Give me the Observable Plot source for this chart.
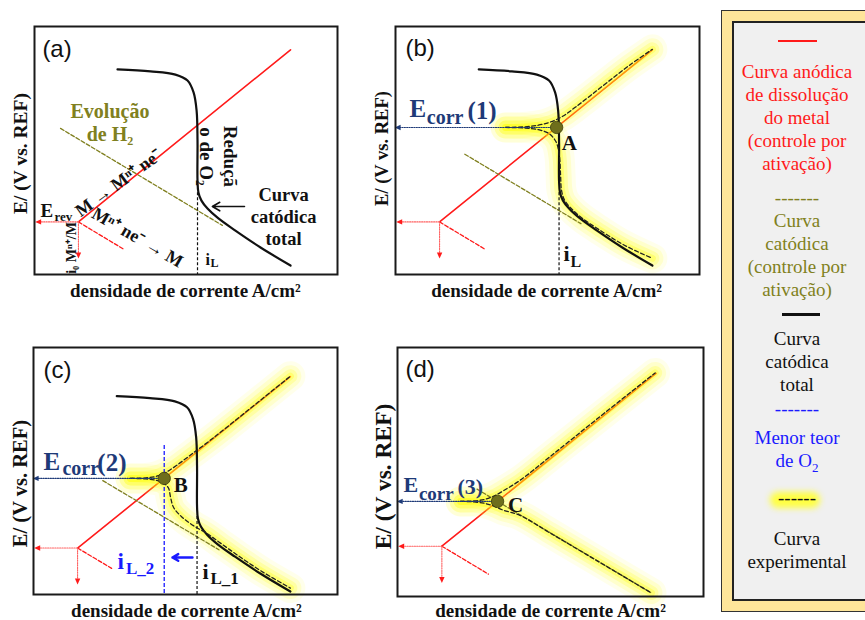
<!DOCTYPE html>
<html><head><meta charset="utf-8">
<script src="https://cdn.jsdelivr.net/npm/d3@7"></script>
<script src="https://cdn.jsdelivr.net/npm/@observablehq/plot@0.6"></script>
<style>
html,body{margin:0;padding:0;background:#fff}
body{width:865px;height:620px;overflow:hidden;position:relative;font-family:"Liberation Serif","Times New Roman",serif}
.panel{position:absolute}
#lgOuter{position:absolute;left:721px;top:10px;width:200px;height:602px;box-sizing:border-box;border:1px solid #333;background:#fee59a}
#lgInner{position:absolute;left:10px;top:10px;right:10px;bottom:10px;border:2px solid #222;background:#f0f0f0}
.lt{position:absolute;left:734px;width:126px;text-align:center;font-family:"Liberation Serif","Times New Roman",serif;font-size:19px;line-height:23px;white-space:nowrap}
.sw{position:absolute}
</style></head><body>
<div id="pa" class="panel" style="left:0;top:0"></div>
<div id="pb" class="panel" style="left:361px;top:0"></div>
<div id="pc" class="panel" style="left:0;top:321px"></div>
<div id="pd" class="panel" style="left:361px;top:321px"></div>
<div id="lgOuter"><div id="lgInner"></div></div>
<div class="sw" style="left:778px;top:40px;width:39px;height:2px;background:#ff1a1a"></div>
<div class="lt" style="top:60px;color:#ff1a1a">Curva anódica<br>de dissolução<br>do metal<br>(controle por<br>ativação)</div>
<div class="lt" style="top:186px;color:#808020">-------</div>
<div class="lt" style="top:209px;color:#808020">Curva<br>catódica<br>(controle por<br>ativação)</div>
<div class="sw" style="left:782px;top:313px;width:38px;height:3px;background:#111"></div>
<div class="lt" style="top:327px;color:#111">Curva<br>catódica<br>total</div>
<div class="lt" style="top:397px;color:#1a1aff">-------</div>
<div class="lt" style="top:426px;color:#1a1aff">Menor teor<br>de O<sub style="font-size:13px">2</sub></div>
<div class="sw" style="left:770px;top:492px;width:50px;height:16px;background:#ffff40;border-radius:8px;filter:blur(3px)"></div>
<div class="lt" style="top:486px;color:#111">------</div>
<div class="lt" style="top:527px;color:#111">Curva<br>experimental</div>
<script>
// ---------- data (schematic units 0..100) ----------
const totalCathodic = [[27.4,82.7],[38.3,81.9],[46.5,80.6],[50.5,78.2],[52.5,73.4],[53.5,66.1],[53.8,54],[53.8,37.9],[54.1,33.1],[55.1,29.8],[57.1,26.6],[60.7,22.6],[66.3,17.7],[74.6,10.9],[84.5,3.6]];
const anodicLine = [[14.5,21.2],[84.5,90.6]];
const reverseBranch = [[14.5,21.2],[29.7,10]];
const reverseBranchC = [[14.5,21.2],[25.7,13]];
const h2LineA = [[8.6,58.9],[62,19.8]];
const h2LineBC = [[22.8,48.5],[61,20.5]];
const h2LineD = [[26,44.1],[83,2.4]];
const eRev = [14.5,21.2];
const iL = 53.8, iLTop = 33, iL1Top = 34;
const iL2 = 43, iL2Top = 62.7;
const corrA = [53,59.3], corrB = [43,49.4], corrC = [32.7,39.2];
const expAnodicB = [[36.2,59.3],[42,59.5],[47,60.2],[51,61.5],[55,63.8],[59,67.3],[64,72],[70,77.8],[77,84.4],[84.5,90.8]];
const expCathodicB = [[36.2,59.3],[42,59.1],[47,58.4],[50.5,56.8],[52.8,53.5],[53.9,48],[54.3,40],[54.6,34],[55.6,30],[57.8,26.6],[61.3,22.8],[66.8,18.2],[75,12],[84.5,6.5]];
const expAnodicC = [[31.9,49.4],[37,49.6],[40.5,50.3],[43.5,51.8],[47,54.6],[52,59.2],[58,64.7],[65,71.5],[74,80.4],[84.5,90.8]];
const expCathodicC = [[31.9,49.4],[37,49.2],[40.5,48.6],[43,47.3],[44.4,45.5],[45.1,41.7],[46.1,37.6],[48.8,33.8],[52.6,30.3],[57.2,27],[61.5,23.2],[67,18.4],[75,11.8],[84.5,5]];
const expAnodicD = [[20.6,39.2],[25,39.4],[28.5,40],[31.5,41.3],[34.5,43.4],[40,47.6],[50,57.3],[65,72.1],[84.2,90.8]];
const expCathodicD = [[20.6,39.2],[25,39],[28.5,38.4],[31.5,37.3],[34.5,35.7],[40,33.6],[50,26.4],[65,15.5],[83,2.4]];
const xLabel = "densidade de corrente A/cm²";
const yLabel = "E/ (V vs. REF)";

// ---------- helpers ----------
const SERIF = "Liberation Serif, Times New Roman, serif";
const SANS = "Liberation Sans, Arial, sans-serif";
const RED = "#ff1a1a", OLIVE = "#808020", NAVY = "#1e3a78", BLUE = "#1a1aff";
const triLeft = {draw(ctx, size){const r=Math.sqrt(size/Math.PI);ctx.moveTo(-r*1.3,0);ctx.lineTo(r*0.7,-r*0.9);ctx.lineTo(r*0.7,r*0.9);ctx.closePath();}};
const triDown = {draw(ctx, size){const r=Math.sqrt(size/Math.PI);ctx.moveTo(0,r*1.3);ctx.lineTo(-r*0.9,-r*0.7);ctx.lineTo(r*0.9,-r*0.7);ctx.closePath();}};
function L(data, o){ return Plot.line(data, {x: d=>d[0], y: d=>d[1], ...o}); }
function T(x, y, t, o){ return Plot.text([{x, y, t}], {x:"x", y:"y", text:"t", fontFamily: SERIF, fontWeight:"bold", fontSize:16, fill:"#111", ...o}); }
function head(p, sym, color){ return Plot.dot([p], {x:d=>d[0], y:d=>d[1], symbol: sym, r:3, fill: color}); }
const glowLayers = [[30,0.08],[22,0.13],[14,0.2],[7,0.3]];
function glow(data){ return glowLayers.map(([w,o]) => L(data, {curve:"catmull-rom", stroke:"#ffff00", strokeWidth:w, strokeOpacity:o, strokeLinecap:"round", strokeLinejoin:"round"})); }
function exp(data){ return L(data, {curve:"catmull-rom", stroke:"#222", strokeWidth:1.3, strokeDasharray:"4,2.5"}); }
function redParts(branch){ return [
  L(anodicLine, {stroke: RED, strokeWidth:1.6}),
  L(branch, {stroke: RED, strokeWidth:1.3, strokeDasharray:"4,2"}),
  L([eRev,[1.5,eRev[1]]], {stroke:"#ff6060", strokeWidth:1.1, strokeDasharray:"1.2,1.2"}),
  L([eRev,[eRev[0],8]], {stroke:"#ff6060", strokeWidth:1.1, strokeDasharray:"1.2,1.2"}),
  head([1.5,eRev[1]], triLeft, RED),
  head([eRev[0],8], triDown, RED)
];}
function corrArrow(p){ return [
  L([p,[1,p[1]]], {stroke: NAVY, strokeWidth:1.1, strokeDasharray:"1.2,1.2"}),
  head([1,p[1]], triLeft, NAVY)
];}
function corrDot(p){ return Plot.dot([p], {x:d=>d[0], y:d=>d[1], r:6.2, fill:"#6e6e1c", stroke:"#3c3c08", strokeWidth:0.8}); }
function eCorr(xE, yE, fE, xs, ys, fs, xn, yn, n){ return [
  T(xE, yE, "E", {fill:NAVY, fontSize:fE, textAnchor:"start"}),
  T(xs, ys, "corr", {fill:NAVY, fontSize:fs, textAnchor:"start"}),
  T(xn, yn, "(" + n + ")", {fill:NAVY, fontSize:fE, textAnchor:"start"})
];}
function panel(el, cfg, marks){
  const p = Plot.plot({
    width: cfg.w, height: 300,
    marginLeft: cfg.ml, marginRight: cfg.mr, marginTop: 26, marginBottom: cfg.mb,
    x: {domain:[0,100], axis:null},
    y: {domain: cfg.yd, axis:null},
    style: {background:"transparent", overflow:"visible"},
    marks: [
      ...marks,
      Plot.frame({stroke:"#1a1a1a", strokeWidth:2}),
      T(cfg.tagX, cfg.tagY, cfg.tag, {fontFamily: SANS, fontWeight:"normal", fontSize:24, textAnchor:"start"}),
      T(cfg.ylx, cfg.yly, yLabel, {rotate:-90, fontSize: cfg.ylfs}),
      T(cfg.xlx, cfg.xly, xLabel, {fontSize:19})
    ]
  });
  document.getElementById(el).appendChild(p);
}

// ---------- (a) ----------
panel("pa", {w:340, ml:34, mr:3, mb:26, yd:[0,100], tag:"(a)", tagX:2.6, tagY:90.9, ylx:-4.6, yly:48.8, ylfs:19.5, xlx:49.8, xly:-6.5}, [
  L(h2LineA, {stroke: OLIVE, strokeWidth:1.3, strokeDasharray:"4,2"}),
  ...redParts(reverseBranch),
  L(totalCathodic, {curve:"catmull-rom", stroke:"#111", strokeWidth:2.2}),
  Plot.ruleX([iL], {y1: iLTop, y2: 0, stroke:"#111", strokeWidth:1.2, strokeDasharray:"3,2"}),
  Plot.arrow([{x1:69.3, y1:27.4, x2:58.7, y2:27.4}], {x1:"x1", y1:"y1", x2:"x2", y2:"y2", stroke:"#111", strokeWidth:1.6, headLength:8}),
  T(24.9, 61.5, "Evolução\nde H₂", {fill: OLIVE, fontSize:20, lineHeight:1.15}),
  T(61, 47.6, "Reduçã\no de O₂", {rotate:90, fontSize:19, lineHeight:1.24}),
  T(82.2, 23.8, "Curva\ncatódica\ntotal", {fontSize:18.5, lineHeight:1.19}),
  T(27.7, 36.9, "M → Mⁿ⁺ ne⁻", {rotate:-36, fontSize:18}),
  T(34, 14.9, "Mⁿ⁺ ne⁻ → M", {rotate:30, fontSize:18}),
  T(2, 25.8, "E", {fontSize:19, textAnchor:"start"}),
  T(6.6, 23.4, "rev", {fontSize:13, textAnchor:"start"}),
  T(12.2, 10.7, "i₀ Mⁿ⁺/M", {rotate:-90, fontSize:14}),
  T(56.4, 6, "i", {fontSize:16, textAnchor:"start"}),
  T(58.1, 4.6, "L", {fontSize:12, textAnchor:"start"})
]);

// ---------- (b) ----------
panel("pb", {w:340, ml:34, mr:2, mb:26, yd:[0,100], tag:"(b)", tagX:3.3, tagY:91.1, ylx:-4.3, yly:50.8, ylfs:18.5, xlx:49.7, xly:-6.5}, [
  ...redParts(reverseBranch),
  ...glow(expAnodicB), ...glow(expCathodicB),
  L(h2LineBC, {stroke: OLIVE, strokeWidth:1.3, strokeDasharray:"4,2"}),
  L(totalCathodic, {curve:"catmull-rom", stroke:"#111", strokeWidth:2.2}),
  Plot.ruleX([iL], {y1: iLTop, y2: 0, stroke:"#111", strokeWidth:1.2, strokeDasharray:"3,2"}),
  exp(expAnodicB), exp(expCathodicB),
  ...corrArrow(corrA),
  corrDot(corrA),
  ...eCorr(4.6, 66.6, 25, 10.3, 63.2, 20, 23.7, 65.9, 1),
  T(57.2, 52.8, "A", {fontSize:21}),
  T(55.3, 8.1, "i", {fontSize:22, textAnchor:"start"}),
  T(57.6, 5.2, "L", {fontSize:16, textAnchor:"start"})
]);

// ---------- (c) ----------
panel("pc", {w:340, ml:33, mr:3, mb:27, yd:[2.4,102.4], tag:"(c)", tagX:3.3, tagY:93.1, ylx:-4.3, yly:47.3, ylfs:20.5, xlx:50.3, xly:-4.1}, [
  ...redParts(reverseBranchC),
  ...glow(expAnodicC), ...glow(expCathodicC),
  L(h2LineBC, {stroke: OLIVE, strokeWidth:1.3, strokeDasharray:"4,2"}),
  L(totalCathodic, {curve:"catmull-rom", stroke:"#111", strokeWidth:2.2}),
  Plot.ruleX([iL], {y1: iL1Top, y2: 2.4, stroke:"#111", strokeWidth:1.2, strokeDasharray:"3,2"}),
  Plot.ruleX([iL2], {y1: iL2Top, y2: 2.4, stroke: BLUE, strokeWidth:1.3, strokeDasharray:"4,2"}),
  exp(expAnodicC), exp(expCathodicC),
  ...corrArrow(corrB),
  corrDot(corrB),
  ...eCorr(3.3, 56, 25, 9.5, 53.2, 20, 21, 55.8, 2),
  T(48.4, 46.5, "B", {fontSize:21}),
  Plot.arrow([{x1:52.3, y1:17.4, x2:45.7, y2:17.4}], {x1:"x1", y1:"y1", x2:"x2", y2:"y2", stroke: BLUE, strokeWidth:2.4, headLength:7}),
  T(27.6, 15.8, "i", {fill: BLUE, fontSize:23, textAnchor:"start"}),
  T(30.4, 12.9, "L_2", {fill: BLUE, fontSize:17, textAnchor:"start"}),
  T(55.6, 11.7, "i", {fontSize:22, textAnchor:"start"}),
  T(58.2, 8.9, "L_1", {fontSize:17, textAnchor:"start"})
]);

// ---------- (d) ----------
panel("pd", {w:344, ml:36, mr:2, mb:25, yd:[1,101], tag:"(d)", tagX:2.6, tagY:92.2, ylx:-4.6, yly:49.2, ylfs:23.5, xlx:50, xly:-4.9}, [
  ...redParts(reverseBranch),
  ...glow(expAnodicD), ...glow(expCathodicD),
  L(h2LineD, {stroke: OLIVE, strokeWidth:1.3, strokeDasharray:"4,2"}),
  exp(expAnodicD), exp(expCathodicD),
  ...corrArrow(corrC),
  corrDot(corrC),
  ...eCorr(2, 45.6, 22, 7, 42.4, 19, 19.6, 44.8, 3),
  T(38.6, 37.5, "C", {fontSize:21})
]);
</script>
</body></html>
